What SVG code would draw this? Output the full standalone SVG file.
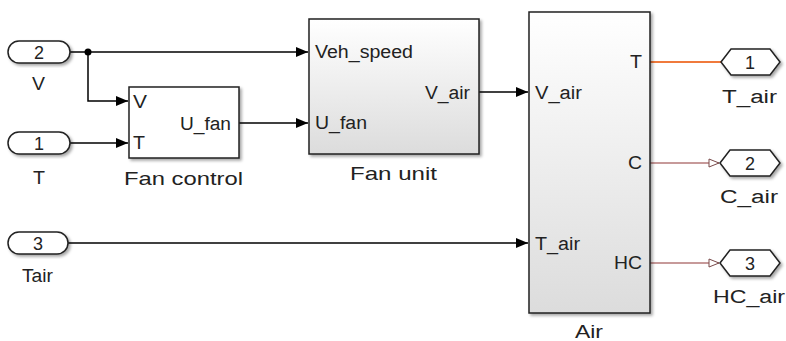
<svg xmlns="http://www.w3.org/2000/svg" width="786" height="341" viewBox="0 0 786 341">
<defs>
<linearGradient id="gsub" x1="0" y1="0" x2="0" y2="1">
<stop offset="0" stop-color="#ffffff"/>
<stop offset="1" stop-color="#dcdcdc"/>
</linearGradient>
<filter id="sh" x="-20%" y="-20%" width="140%" height="140%">
<feDropShadow dx="2" dy="2" stdDeviation="1.5" flood-color="#000" flood-opacity="0.35"/>
</filter>
<marker id="arr" markerWidth="12" markerHeight="10" refX="12" refY="5" orient="auto" markerUnits="userSpaceOnUse">
<path d="M0,0 L12,5 L0,10 Z" fill="#000"/>
</marker>
<marker id="oarr" markerWidth="12" markerHeight="10" refX="11" refY="5" orient="auto" markerUnits="userSpaceOnUse">
<path d="M1,1 L11,5 L1,9 Z" fill="#fff" stroke="#7a4a4a" stroke-width="1"/>
</marker>
</defs>
<style>
text{font-family:"Liberation Sans",Arial,sans-serif;fill:#222;font-size:18px}
.blk{stroke:#222;stroke-width:1.5}
.port{fill:#fff;stroke:#222;stroke-width:1.5}
.ln{fill:none;stroke:#000;stroke-width:1.5}
.mid{text-anchor:middle}
.big{font-size:19px}
</style>

<g id="connectors">
<path class="ln" d="M70,52 H308" marker-end="url(#arr)"/>
<path class="ln" d="M88,52 V101 H128" marker-end="url(#arr)"/>
<path class="ln" d="M70,143 H128" marker-end="url(#arr)"/>
<path class="ln" d="M239,123 H308" marker-end="url(#arr)"/>
<path class="ln" d="M479,92 H528" marker-end="url(#arr)"/>
<path class="ln" d="M68,243 H528" marker-end="url(#arr)"/>
<circle cx="88" cy="52" r="3.5" fill="#000"/>
<path d="M650,62 H721" fill="none" stroke="#f07a3c" stroke-width="2"/>
<path d="M650,163 H719" fill="none" stroke="#b57878" stroke-width="1.5" marker-end="url(#oarr)"/>
<path d="M650,263 H719" fill="none" stroke="#b57878" stroke-width="1.5" marker-end="url(#oarr)"/>
</g>

<g id="in_V">
<rect class="port" x="8" y="41" width="62" height="22" rx="11" filter="url(#sh)"/>
<text class="mid" x="39" y="58.5">2</text>
<text x="32" y="90" textLength="13" lengthAdjust="spacingAndGlyphs">V</text>
</g>
<g id="in_T">
<rect class="port" x="8" y="132" width="62" height="22" rx="11" filter="url(#sh)"/>
<text class="mid" x="39" y="149.5">1</text>
<text x="33" y="184" textLength="12" lengthAdjust="spacingAndGlyphs">T</text>
</g>
<g id="in_Tair">
<rect class="port" x="8" y="232" width="60" height="22" rx="11" filter="url(#sh)"/>
<text class="mid" x="38" y="249.5">3</text>
<text x="22" y="282" textLength="31" lengthAdjust="spacingAndGlyphs">Tair</text>
</g>

<g id="fan_control">
<rect class="blk" x="129" y="87" width="110" height="71" fill="#fff" filter="url(#sh)"/>
<text x="133" y="108" textLength="14" lengthAdjust="spacingAndGlyphs">V</text>
<text x="133" y="149" textLength="12" lengthAdjust="spacingAndGlyphs">T</text>
<text x="180" y="130" textLength="51" lengthAdjust="spacingAndGlyphs">U_fan</text>
<text class="big" x="124" y="185" textLength="119" lengthAdjust="spacingAndGlyphs">Fan control</text>
</g>

<g id="fan_unit">
<rect class="blk" x="309" y="19" width="170" height="135" fill="url(#gsub)" filter="url(#sh)"/>
<text x="315" y="58" textLength="98" lengthAdjust="spacingAndGlyphs">Veh_speed</text>
<text x="315" y="129" textLength="52" lengthAdjust="spacingAndGlyphs">U_fan</text>
<text x="425" y="99" textLength="45" lengthAdjust="spacingAndGlyphs">V_air</text>
<text class="big" x="350" y="180" textLength="87" lengthAdjust="spacingAndGlyphs">Fan unit</text>
</g>

<g id="air">
<rect class="blk" x="529" y="12" width="121" height="301" fill="url(#gsub)" filter="url(#sh)"/>
<text x="535" y="99" textLength="47" lengthAdjust="spacingAndGlyphs">V_air</text>
<text x="535" y="250" textLength="45" lengthAdjust="spacingAndGlyphs">T_air</text>
<text x="630" y="68" textLength="12" lengthAdjust="spacingAndGlyphs">T</text>
<text x="628" y="169" textLength="14" lengthAdjust="spacingAndGlyphs">C</text>
<text x="614" y="269" textLength="28" lengthAdjust="spacingAndGlyphs">HC</text>
<text class="big" x="575" y="338" textLength="28" lengthAdjust="spacingAndGlyphs">Air</text>
</g>

<g id="out_T_air">
<polygon class="port" points="721,62 731,49 770,49 780,62 770,75 731,75" filter="url(#sh)"/>
<text class="mid" x="750" y="68.5">1</text>
<text x="722" y="103" textLength="55" lengthAdjust="spacingAndGlyphs">T_air</text>
</g>
<g id="out_C_air">
<polygon class="port" points="720,163 730,150 770,150 780,163 770,176 730,176" filter="url(#sh)"/>
<text class="mid" x="750" y="169.5">2</text>
<text x="720" y="203" textLength="58" lengthAdjust="spacingAndGlyphs">C_air</text>
</g>
<g id="out_HC_air">
<polygon class="port" points="720,263 730,250 770,250 780,263 770,276 730,276" filter="url(#sh)"/>
<text class="mid" x="750" y="269.5">3</text>
<text x="713" y="303" textLength="72" lengthAdjust="spacingAndGlyphs">HC_air</text>
</g>
</svg>
